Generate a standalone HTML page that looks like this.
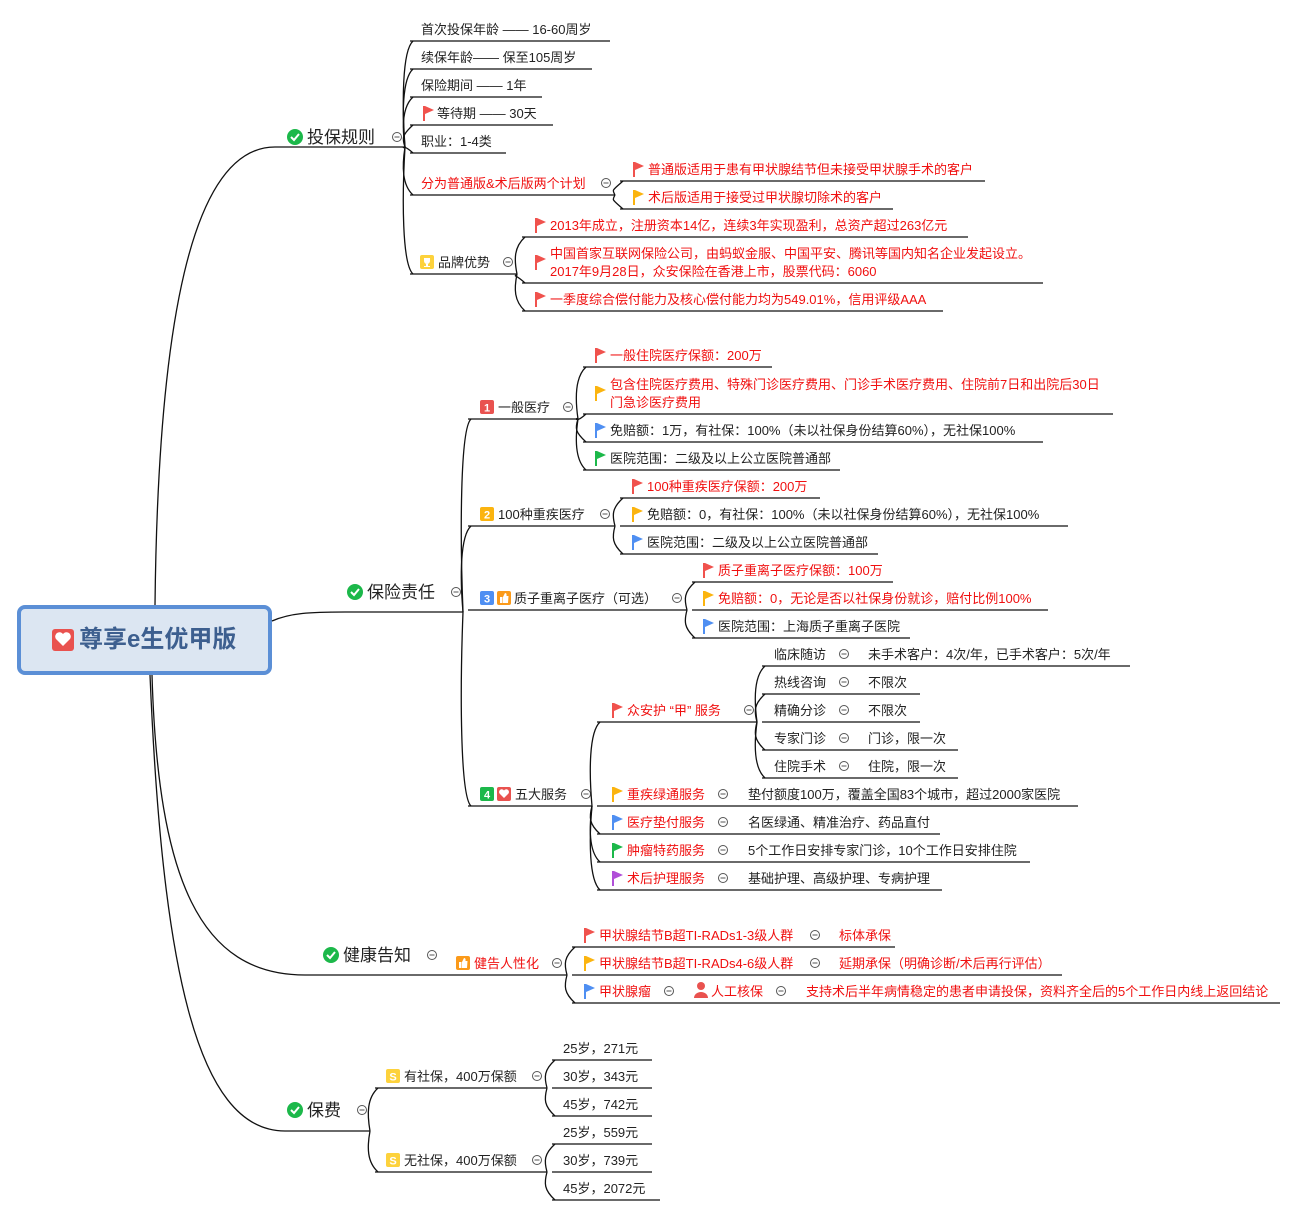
<!DOCTYPE html>
<html><head><meta charset="utf-8">
<style>
html,body{margin:0;padding:0;background:#fff;}
body{width:1297px;height:1216px;position:relative;overflow:hidden;font-family:"Liberation Sans","Noto Sans CJK SC",sans-serif;}
.t{position:absolute;white-space:nowrap;font-size:13px;line-height:16px;color:#222;}
.r{color:#f01010;}
.l1{font-size:17px;line-height:20px;color:#222;}
svg{position:absolute;left:0;top:0;}
.root{position:absolute;left:17px;top:605px;width:247px;height:62px;border:4px solid #5b8fd6;border-radius:8px;background:#dce6f2;}
.root span{position:absolute;left:58px;top:16px;font-size:24px;font-weight:bold;color:#3d5f8f;line-height:30px;}
</style></head><body>
<div class="root"><span>尊享e生优甲版</span></div>
<svg id="s" width="1297" height="1216" xmlns="http://www.w3.org/2000/svg"></svg>
<div id="c"></div>
<script>
var S=document.getElementById('s'),C=document.getElementById('c'),svg='',html='';
function U(x1,x2,y){svg+='<line x1="'+x1+'" y1="'+y+'" x2="'+x2+'" y2="'+y+'" stroke="#111" stroke-width="1.3"/>';}
function P(d){svg+='<path d="'+d+'" fill="none" stroke="#111" stroke-width="1.3"/>';}
function B(xp,yp,ys){ys.forEach(function(yc){var s=yc<yp?1:-1;if(Math.abs(yc-yp)<3){return;}P('M'+xp+' '+yp+' C'+(xp-3)+' '+(yp+(yc-yp)*0.4)+' '+(xp-3)+' '+(yc+s*10)+' '+(xp+8)+' '+yc);});}
function T(x,y,s,cls){html+='<div class="t '+(cls||'')+'" style="left:'+x+'px;top:'+(y-7)+'px">'+s+'</div>';}
function T1(x,y,s){html+='<div class="t l1" style="left:'+x+'px;top:'+(y-9)+'px">'+s+'</div>';}
function F(x,y,c){svg+='<rect x="'+x+'" y="'+(y-7)+'" width="2" height="15" fill="'+c+'"/><polygon points="'+(x+2)+','+(y-7)+' '+(x+11)+','+(y-3)+' '+(x+2)+','+(y+1)+'" fill="'+c+'"/>';}
function O(x,y){svg+='<circle cx="'+x+'" cy="'+y+'" r="4.5" fill="#fff" stroke="#555" stroke-width="1"/><line x1="'+(x-2.5)+'" y1="'+y+'" x2="'+(x+2.5)+'" y2="'+y+'" stroke="#555"/>';}
function K(x,y){svg+='<circle cx="'+x+'" cy="'+y+'" r="8" fill="#1cb84a"/><polyline points="'+(x-4)+','+y+' '+(x-1)+','+(y+3)+' '+(x+4)+','+(y-3)+'" fill="none" stroke="#fff" stroke-width="2"/>';}
function N(x,y,n,c){svg+='<rect x="'+x+'" y="'+(y-7)+'" width="14" height="14" rx="2" fill="'+c+'"/><text x="'+(x+7)+'" y="'+(y+4.5)+'" font-size="11" font-weight="bold" fill="#fff" text-anchor="middle" font-family="Liberation Sans,sans-serif">'+n+'</text>';}
function SQ(x,y,c,ch){svg+='<rect x="'+x+'" y="'+(y-7)+'" width="14" height="14" rx="2" fill="'+c+'"/><text x="'+(x+7)+'" y="'+(y+4.5)+'" font-size="11" font-weight="bold" fill="#fff" text-anchor="middle" font-family="Liberation Sans,sans-serif">'+ch+'</text>';}
function TH(x,y){svg+='<rect x="'+x+'" y="'+(y-7)+'" width="14" height="14" rx="2" fill="#fb9a1a"/><rect x="'+(x+3)+'" y="'+(y-1)+'" width="2.5" height="6" fill="#fff"/><path d="M'+(x+6)+' '+(y-1)+' L'+(x+8)+' '+(y-5)+' Q'+(x+10)+' '+(y-5)+' '+(x+9.5)+' '+(y-2)+' L'+(x+11.5)+' '+(y-2)+' L'+(x+11)+' '+(y+5)+' L'+(x+6)+' '+(y+5)+' Z" fill="#fff"/>';}
var RED='#f0524d',ORG='#fbb40f',BLU='#4f8ff2',GRN='#1cb84a',PUR='#b04fd8';
svg+='<rect x="52" y="629" width="22" height="22" rx="3" fill="#e9524f"/><path d="M63 646 L56 639 A3.5 3.5 0 0 1 63 634 A3.5 3.5 0 0 1 70 639 Z" fill="#fff"/>';
P('M155 605 C158 330 190 147 275 147');U(275,405,147);
P('M272 621 C290 613 310 612 345 612');U(345,463,612);
P('M152 675 C158 880 200 975 305 975');U(305,447,975);
P('M150 675 C162 960 195 1131 285 1131');U(285,370,1131);
K(295,137);T1(307,137,'投保规则');O(397,137);
K(355,592);T1(367,592,'保险责任');O(456,592);
K(331,955);T1(343,955,'健康告知');O(432,955);
K(295,1110);T1(307,1110,'保费');O(362,1110);
B(405,147,[41,69,97,125,153,195,274]);
U(410,610,41);T(421,29,'首次投保年龄 —— 16-60周岁');
U(410,592,69);T(421,57,'续保年龄—— 保至105周岁');
U(410,542,97);T(421,85,'保险期间 —— 1年');
U(410,553,125);F(423,113,RED);T(437,113,'等待期 —— 30天');
U(410,506,153);T(421,141,'职业：1-4类');
U(410,615,195);T(421,183,'分为普通版&术后版两个计划','r');O(606,183);
B(615,195,[181,209]);
U(620,985,181);F(633,169,RED);T(648,169,'普通版适用于患有甲状腺结节但未接受甲状腺手术的客户','r');
U(620,893,209);F(633,197,ORG);T(648,197,'术后版适用于接受过甲状腺切除术的客户','r');
U(410,517,274);svg+='<rect x="420" y="255" width="14" height="14" rx="2" fill="#fdd23c"/><path d="M424 258 h6 v3 a3 3 0 0 1 -6 0z M426 264 h2 v2 h2 v1 h-6 v-1 h2z" fill="#fff"/>';T(438,262,'品牌优势');O(508,262);
B(517,274,[237,283,311]);
U(522,968,237);F(535,225,RED);T(550,225,'2013年成立，注册资本14亿，连续3年实现盈利，总资产超过263亿元','r');
U(522,1043,283);F(535,262,RED);T(550,253,'中国首家互联网保险公司，由蚂蚁金服、中国平安、腾讯等国内知名企业发起设立。','r');T(550,271,'2017年9月28日，众安保险在香港上市，股票代码：6060','r');
U(522,943,311);F(535,299,RED);T(550,299,'一季度综合偿付能力及核心偿付能力均为549.01%，信用评级AAA','r');
B(463,612,[419,526,806]);
U(468,578,419);N(480,407,'1','#e9524f');T(498,407,'一般医疗');O(568,407);
B(578,419,[367,414,442,470]);
U(583,772,367);F(595,355,RED);T(610,355,'一般住院医疗保额：200万','r');
U(583,1113,414);F(595,393,ORG);T(610,384,'包含住院医疗费用、特殊门诊医疗费用、门诊手术医疗费用、住院前7日和出院后30日','r');T(610,402,'门急诊医疗费用','r');
U(583,1043,442);F(595,430,BLU);T(610,430,'免赔额：1万，有社保：100%（未以社保身份结算60%），无社保100%');
U(583,840,470);F(595,458,GRN);T(610,458,'医院范围：二级及以上公立医院普通部');
U(468,615,526);N(480,514,'2','#fbb40f');T(498,514,'100种重疾医疗');O(605,514);
B(615,526,[498,554]);
U(620,820,498);F(632,486,RED);T(647,486,'100种重疾医疗保额：200万','r');
U(620,1068,526);F(632,514,ORG);T(647,514,'免赔额：0，有社保：100%（未以社保身份结算60%），无社保100%');
U(620,878,554);F(632,542,BLU);T(647,542,'医院范围：二级及以上公立医院普通部');
U(468,687,610);N(480,598,'3','#4f8ff2');TH(497,598);T(514,598,'质子重离子医疗（可选）');O(677,598);
B(687,610,[582,638]);
U(692,893,582);F(703,570,RED);T(718,570,'质子重离子医疗保额：100万','r');
U(692,1048,610);F(703,598,ORG);T(718,598,'免赔额：0，无论是否以社保身份就诊，赔付比例100%','r');
U(692,910,638);F(703,626,BLU);T(718,626,'医院范围：上海质子重离子医院');
U(468,592,806);N(480,794,'4',GRN);svg+='<rect x="497" y="787" width="14" height="14" rx="2" fill="#e9524f"/><path d="M504 798 L499.5 793.5 A2.3 2.3 0 0 1 504 790.5 A2.3 2.3 0 0 1 508.5 793.5 Z" fill="#fff"/>';T(515,794,'五大服务');O(586,794);
B(592,806,[722,834,862,890]);
U(597,757,722);F(612,710,RED);T(627,710,'众安护 “甲” 服务','r');O(749,710);
B(757,722,[666,694,750,778]);
var zs=[['临床随访','未手术客户：4次/年，已手术客户：5次/年',1130],['热线咨询','不限次',920],['精确分诊','不限次',920],['专家门诊','门诊，限一次',958],['住院手术','住院，限一次',958]];
zs.forEach(function(z,i){var y=654+28*i;U(762,z[2],y+12);T(774,y,z[0]);O(844,y);T(868,y,z[1]);});
var fw=[['重疾绿通服务','垫付额度100万，覆盖全国83个城市，超过2000家医院',1078,ORG],['医疗垫付服务','名医绿通、精准治疗、药品直付',940,BLU],['肿瘤特药服务','5个工作日安排专家门诊，10个工作日安排住院',1030,GRN],['术后护理服务','基础护理、高级护理、专病护理',942,PUR]];
fw.forEach(function(z,i){var y=794+28*i;U(597,z[2],y+12);F(612,y,z[3]);T(627,y,z[0],'r');O(723,y);T(748,y,z[1]);});
U(447,567,975);TH(456,963);T(474,963,'健告人性化','r');O(557,963);
B(567,975,[947,1003]);
U(572,895,947);F(584,935,RED);T(599,935,'甲状腺结节B超TI-RADs1-3级人群','r');O(815,935);T(839,935,'标体承保','r');
U(572,1062,975);F(584,963,ORG);T(599,963,'甲状腺结节B超TI-RADs4-6级人群','r');O(815,963);T(839,963,'延期承保（明确诊断/术后再行评估）','r');
U(572,1280,1003);F(584,991,BLU);T(599,991,'甲状腺瘤','r');O(669,991);svg+='<circle cx="701" cy="986" r="4" fill="#e9524f"/><path d="M694 998 a7 6 0 0 1 14 0z" fill="#e9524f"/>';T(711,991,'人工核保','r');O(781,991);T(806,991,'支持术后半年病情稳定的患者申请投保，资料齐全后的5个工作日内线上返回结论','r');
B(370,1131,[1088,1172]);
U(375,547,1088);SQ(386,1076,'#fdd23c','S');T(404,1076,'有社保，400万保额');O(537,1076);
U(375,547,1172);SQ(386,1160,'#fdd23c','S');T(404,1160,'无社保，400万保额');O(537,1160);
B(547,1088,[1060,1116]);B(547,1172,[1144,1200]);
[['25岁，271元',1048,652],['30岁，343元',1076,652],['45岁，742元',1104,652],['25岁，559元',1132,652],['30岁，739元',1160,652],['45岁，2072元',1188,660]].forEach(function(z){U(552,z[2],z[1]+12);T(563,z[1],z[0]);});
S.innerHTML=svg;C.innerHTML=html;
</script>
</body></html>
